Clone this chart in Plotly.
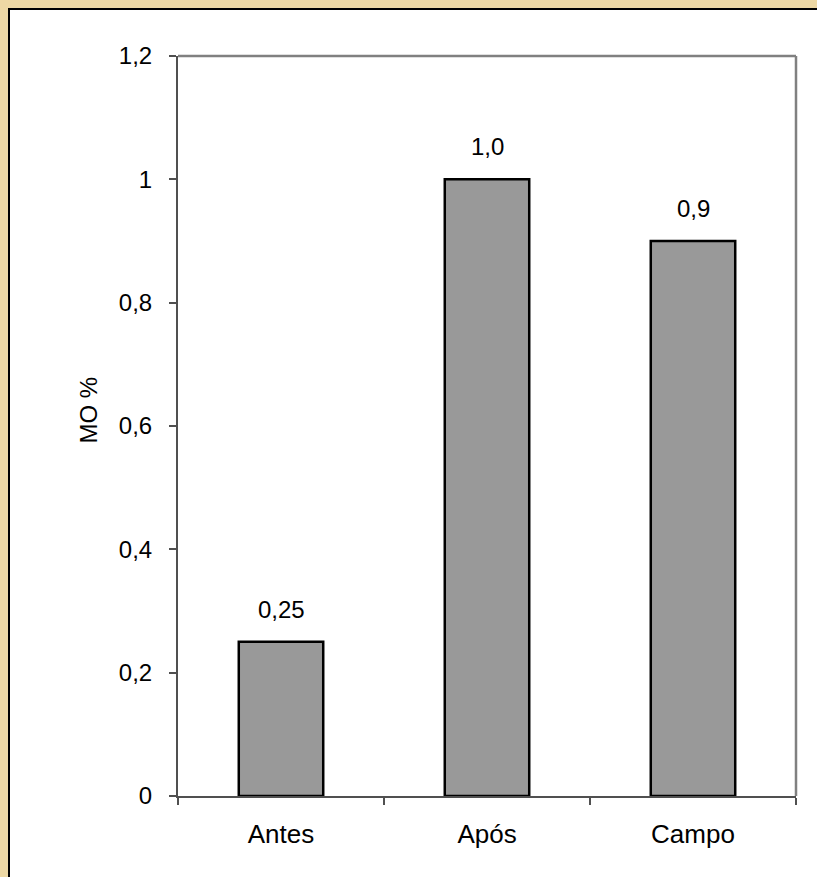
import plotly.graph_objects as go

categories = ["Antes", "Após", "Campo"]
values = [0.25, 1.0, 0.9]
value_labels = ["0,25", "1,0", "0,9"]
y_tickvals = [0, 0.2, 0.4, 0.6, 0.8, 1.0, 1.2]
y_ticktext = ["0", "0,2", "0,4", "0,6", "0,8", "1", "1,2"]
y_title = "MO %"

FONT = "Liberation Sans, Arial, sans-serif"
TAN = "#EDD8A4"

# page layout (pixels): white panel starts at OFF after a tan border + black edge
OFF = 10
FIG_W, FIG_H = 817 - OFF, 877 - OFF
L_PAGE, T_PAGE, PW, PH = 178, 56, 618, 740
L, T = L_PAGE - OFF, T_PAGE - OFF


def px(x_page):
    return (x_page - L_PAGE) / PW


def py(y_page):
    return (T_PAGE + PH - y_page) / PH


fig = go.Figure()
fig.add_trace(go.Bar(
    x=categories, y=values,
    marker=dict(color="#999999", line=dict(color="#000000", width=2.5)),
    width=0.41,
    hoverinfo="skip",
))

for c, v, t in zip(categories, values, value_labels):
    fig.add_annotation(x=c, y=v, text=t, showarrow=False, yanchor="bottom",
                       yshift=17, font=dict(family=FONT, size=24, color="#000000"))

fig.add_annotation(xref="paper", yref="paper", x=px(72), y=py(410),
                   text=y_title, textangle=-90, showarrow=False,
                   font=dict(family=FONT, size=24, color="#000000"))

# gray frame top/right
fig.add_shape(type="line", xref="paper", yref="paper", x0=0, x1=1, y0=1, y1=1,
              line=dict(color="#808080", width=2.5))
fig.add_shape(type="line", xref="paper", yref="paper", x0=1, x1=1, y0=0, y1=1,
              line=dict(color="#808080", width=2.5))

fig.update_layout(
    width=FIG_W, height=FIG_H,
    margin=dict(l=L, r=FIG_W - L - PW, t=T, b=FIG_H - T - PH),
    paper_bgcolor="#FFFFFF",
    plot_bgcolor="#FFFFFF",
    showlegend=False,
    font=dict(family=FONT, size=24, color="#000000"),
    xaxis=dict(
        type="category", showgrid=False, zeroline=False,
        showline=True, linecolor="#505050", linewidth=2,
        ticks="outside", tickson="boundaries", ticklen=7, tickcolor="#505050", tickwidth=1.5,
        tickfont=dict(family=FONT, size=26, color="#000000"),
        ticklabelstandoff=14,
    ),
    yaxis=dict(
        range=[0, 1.2], showgrid=False, zeroline=False,
        showline=True, linecolor="#505050", linewidth=2,
        ticks="outside", ticklen=7, tickcolor="#505050", tickwidth=1.5,
        tickvals=y_tickvals, ticktext=y_ticktext,
        tickfont=dict(family=FONT, size=24, color="#000000"),
        ticklabelstandoff=12,
    ),
)

post = (
    "document.body.style.margin='0';"
    "document.body.style.overflow='hidden';"
    "document.body.style.background='" + TAN + "';"
    "var gd=document.getElementById('{plot_id}');"
    "gd.style.position='absolute';"
    "gd.style.left='" + str(OFF - 2) + "px';"
    "gd.style.top='" + str(OFF - 2) + "px';"
    "gd.style.borderLeft='2px solid #000';"
    "gd.style.borderTop='2px solid #000';"
)

fig.write_html("out.html", config={"displayModeBar": False}, post_script=post)
